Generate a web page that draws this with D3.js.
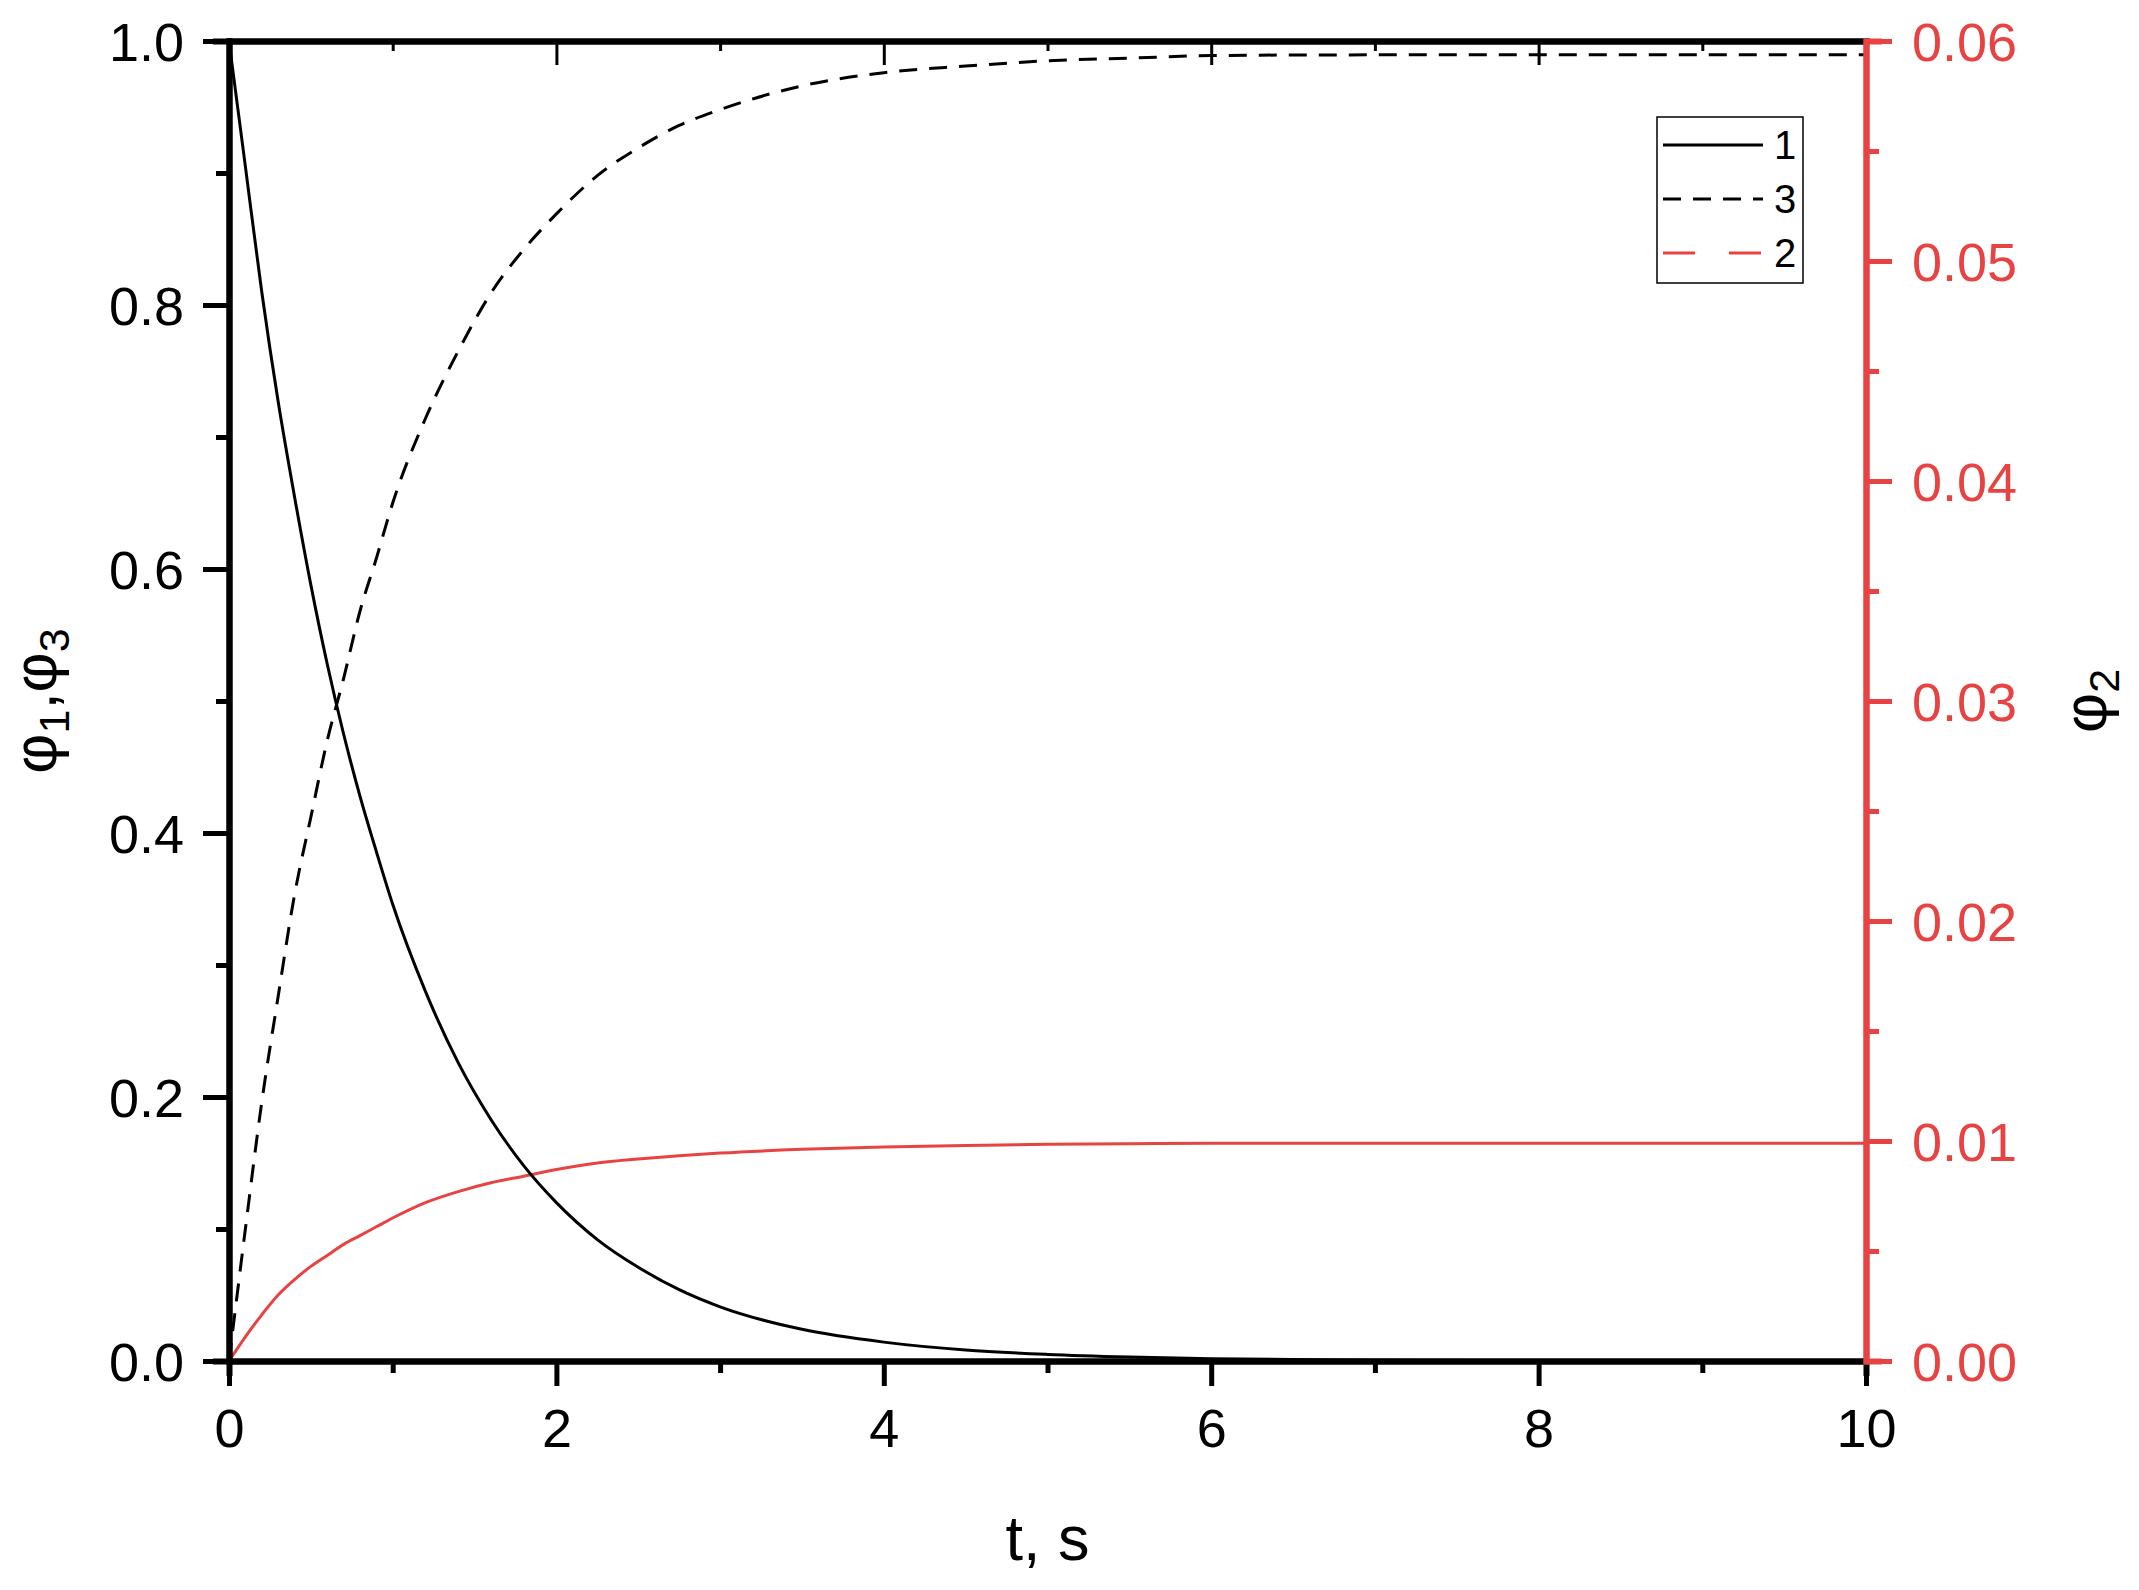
<!DOCTYPE html>
<html>
<head>
<meta charset="utf-8">
<script src="https://cdn.jsdelivr.net/npm/d3@7"></script>
<style>
  body { margin: 0; background: #fff; }
  svg { display: block; font-family: Arial, "Liberation Sans", sans-serif; }
</style>
</head>
<body>
<script>
var W = 2139, H = 1590;
var margin = { top: 41, right: 273, bottom: 229, left: 229 };
var width = W - margin.left - margin.right,
    height = H - margin.top - margin.bottom;

var red = "#e84343";

// data
var tValues = [0, 0.1, 0.2, 0.3, 0.4, 0.5, 0.6, 0.7, 0.8, 0.9, 1.0, 1.2, 1.4, 1.6, 1.8, 2.0,
               2.25, 2.5, 2.75, 3.0, 3.5, 4.0, 4.5, 5.0, 5.5, 6.0, 7.0, 8.0, 9.0, 10];
var phi1 = [1.0, 0.905, 0.81, 0.727, 0.655, 0.588, 0.528, 0.475, 0.428, 0.386, 0.346, 0.28, 0.226, 0.183, 0.148, 0.12,
            0.092, 0.071, 0.054, 0.041, 0.024, 0.0143, 0.0083, 0.005, 0.003, 0.0017, 0.0006, 0.0002, 0.0001, 0.0];
var phi3 = [0, 0.1, 0.196, 0.276, 0.353, 0.412, 0.47, 0.517, 0.568, 0.608, 0.65, 0.714, 0.765, 0.809, 0.842, 0.869,
            0.898, 0.919, 0.936, 0.948, 0.966, 0.976, 0.981, 0.985, 0.987, 0.989, 0.9895, 0.9895, 0.9895, 0.9895];
var phi2 = [0, 0.0011, 0.0021, 0.003, 0.0037, 0.0043, 0.0048, 0.0053, 0.0057, 0.0061, 0.0065, 0.0072, 0.0077, 0.0081, 0.0084, 0.0087,
            0.009, 0.00918, 0.00933, 0.00945, 0.00962, 0.00973, 0.0098, 0.00985, 0.00988, 0.0099, 0.0099, 0.0099, 0.0099, 0.0099];

var xMajor = [0, 2, 4, 6, 8, 10];
var xMinor = [1, 3, 5, 7, 9];
var yLeftMajor = [0, 0.2, 0.4, 0.6, 0.8, 1.0];
var yLeftMinor = [0.1, 0.3, 0.5, 0.7, 0.9];
var yRightMajor = [0, 0.01, 0.02, 0.03, 0.04, 0.05, 0.06];
var yRightMinor = [0.005, 0.015, 0.025, 0.035, 0.045, 0.055];
var legendLabels = ["1", "3", "2"];

// scales
var xScale = d3.scaleLinear().domain([0, 10]).range([0, width]);
var yScale = d3.scaleLinear().domain([0, 1]).range([height, 0]);
var y2Scale = d3.scaleLinear().domain([0, 0.06]).range([height, 0]);

var svg = d3.select("body").append("svg")
    .attr("width", W)
    .attr("height", H);

var g = svg.append("g")
    .attr("transform", "translate(" + margin.left + "," + margin.top + ")");

function series(vals) {
  return tValues.map(function(t, i) { return { t: t, v: vals[i] }; });
}

var line1 = d3.line().curve(d3.curveMonotoneX)
  .x(function(d) { return xScale(d.t); })
  .y(function(d) { return yScale(d.v); });
var line2 = d3.line().curve(d3.curveMonotoneX)
  .x(function(d) { return xScale(d.t); })
  .y(function(d) { return y2Scale(d.v); });

// curves
g.append("path").attr("d", line2(series(phi2)))
  .attr("fill", "none").attr("stroke", red).attr("stroke-width", 3);
g.append("path").attr("d", line1(series(phi3)))
  .attr("fill", "none").attr("stroke", "#000").attr("stroke-width", 3)
  .attr("stroke-dasharray", "18,12");
g.append("path").attr("d", line1(series(phi1)))
  .attr("fill", "none").attr("stroke", "#000").attr("stroke-width", 3);

// axes
function styleAxis(sel, color, w, fs) {
  sel.selectAll("path.domain").attr("stroke", color).attr("stroke-width", 6).attr("stroke-linecap", "square");
  sel.selectAll(".tick line").attr("stroke", color).attr("stroke-width", w);
  sel.selectAll(".tick text").attr("fill", color).style("font-size", fs + "px").style("font-family", "Arial, 'Liberation Sans', sans-serif");
}

// top (inward ticks)
g.append("g").call(d3.axisTop(xScale).tickValues(xMinor).tickSizeInner(-10).tickSizeOuter(0).tickFormat(""))
  .call(styleAxis, "#000", 3, 0);
g.append("g").call(d3.axisTop(xScale).tickValues(xMajor).tickSizeInner(-24).tickSizeOuter(0).tickFormat(""))
  .call(styleAxis, "#000", 3, 0);

// bottom
g.append("g").attr("transform", "translate(0," + height + ")")
  .call(d3.axisBottom(xScale).tickValues(xMinor).tickSize(12).tickFormat(""))
  .call(styleAxis, "#000", 5, 0);
g.append("g").attr("transform", "translate(0," + height + ")")
  .call(d3.axisBottom(xScale).tickValues(xMajor).tickSizeInner(25).tickSizeOuter(0).tickPadding(22).tickFormat(d3.format("d")))
  .call(styleAxis, "#000", 5, 54);

// left
g.append("g")
  .call(d3.axisLeft(yScale).tickValues(yLeftMinor).tickSize(13).tickFormat(""))
  .call(styleAxis, "#000", 5, 0);
g.append("g")
  .call(d3.axisLeft(yScale).tickValues(yLeftMajor).tickSizeInner(26).tickSizeOuter(0).tickPadding(19).tickFormat(d3.format(".1f")))
  .call(styleAxis, "#000", 5, 54);

// right (red)
g.append("g").attr("transform", "translate(" + width + ",0)")
  .call(d3.axisRight(y2Scale).tickValues(yRightMinor).tickSize(13).tickFormat(""))
  .call(styleAxis, red, 5, 0);
g.append("g").attr("transform", "translate(" + width + ",0)")
  .call(d3.axisRight(y2Scale).tickValues(yRightMajor).tickSizeInner(26).tickSizeOuter(0).tickPadding(20).tickFormat(d3.format(".2f")))
  .call(styleAxis, red, 5, 54);

g.selectAll(".tick text").attr("dy", function() {
  return d3.select(this).attr("dy") === "0.71em" ? "0.72em" : "0.36em";
});

// axis titles
svg.append("text")
  .attr("x", margin.left + width / 2)
  .attr("y", 1560)
  .attr("text-anchor", "middle")
  .style("font-size", "63px")
  .text("t, s");

var leftTitle = svg.append("text")
  .attr("transform", "translate(56," + (margin.top + height / 2) + ") rotate(-90)")
  .attr("text-anchor", "middle")
  .style("font-size", "62px");
leftTitle.append("tspan").text("φ");
leftTitle.append("tspan").attr("dy", 13).style("font-size", "43px").text("1");
leftTitle.append("tspan").attr("dy", -13).text(",φ");
leftTitle.append("tspan").attr("dy", 13).style("font-size", "43px").text("3");

var rightTitle = svg.append("text")
  .attr("transform", "translate(2106," + (margin.top + height / 2) + ") rotate(-90)")
  .attr("text-anchor", "middle")
  .style("font-size", "62px");
rightTitle.append("tspan").text("φ");
rightTitle.append("tspan").attr("dy", 13).style("font-size", "43px").text("2");

// legend
var legend = g.append("g").attr("transform", "translate(" + (width - 209) + ",76)");
legend.append("rect")
  .attr("width", 146).attr("height", 166)
  .attr("fill", "#fff").attr("stroke", "#000").attr("stroke-width", 1.5);
var legendStyles = [
  { color: "#000", dash: null },
  { color: "#000", dash: "18,12" },
  { color: red, dash: "32,34" }
];
legendLabels.forEach(function(lbl, i) {
  var yy = 28 + i * 54;
  legend.append("line")
    .attr("x1", 6).attr("x2", 106).attr("y1", yy).attr("y2", yy)
    .attr("stroke", legendStyles[i].color).attr("stroke-width", 3)
    .attr("stroke-dasharray", legendStyles[i].dash);
  legend.append("text")
    .attr("x", 117).attr("y", yy).attr("dy", "0.36em")
    .style("font-size", "40px")
    .text(lbl);
});
</script>
</body>
</html>
